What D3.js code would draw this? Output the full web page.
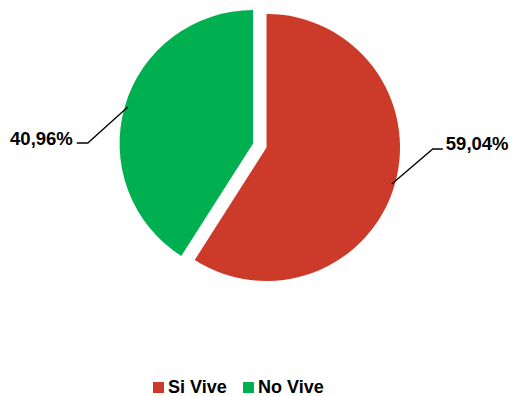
<!DOCTYPE html>
<html>
<head>
<meta charset="utf-8">
<script src="https://cdn.jsdelivr.net/npm/d3@7"></script>
<style>
  body { margin: 0; background: #fff; }
  svg text { font-family: "Liberation Sans", Arial, sans-serif; font-weight: bold; fill: #000; }
</style>
</head>
<body>
<svg id="chart" width="510" height="396"></svg>
<script>
// data
const categories = ["Si Vive", "No Vive"];
const values = [59.04, 40.96];
const colors = ["#cc3a2a", "#00b050"];

const svg = d3.select("#chart");
const cx = 259.8, cy = 145.5, r = 133.5, explode = 7;

const pie = d3.pie().sort(null).value(d => d.v);
const arcs = pie(categories.map((c, i) => ({ c: c, v: values[i], col: colors[i] })));
const arc = d3.arc().innerRadius(0).outerRadius(r);

const g = svg.append("g").attr("transform", `translate(${cx},${cy})`);

// offset of a slice along its mid angle
function mid(d) { return (d.startAngle + d.endAngle) / 2; }
function off(d, k) { const a = mid(d); return [Math.sin(a) * k, -Math.cos(a) * k]; }

g.selectAll("path").data(arcs).enter().append("path")
  .attr("d", arc)
  .attr("transform", d => { const o = off(d, explode); return `translate(${o[0]},${o[1]})`; })
  .style("fill", d => d.data.col);

// leader lines and labels
const fmt = v => v.toFixed(2).replace(".", ",") + "%";
arcs.forEach(d => {
  const a = mid(d);
  const right = Math.sin(a) > 0;
  const p0 = off(d, explode + r - 3);
  const elbow = [right ? 173 : -172, right ? 3.5 : -2.5];
  const p2 = [elbow[0] + (right ? 10 : -11), elbow[1]];
  g.append("polyline")
    .attr("points", [p0, elbow, p2].map(p => p.join(",")).join(" "))
    .style("fill", "none").style("stroke", "#000").style("stroke-width", 1.3);
  g.append("text")
    .attr("x", p2[0] + (right ? 3 : -4))
    .attr("y", elbow[1] + (right ? 0.5 : 2))
    .attr("text-anchor", right ? "start" : "end")
    .style("font-size", "18.5px")
    .text(fmt(d.data.v));
});

// legend
const legend = svg.append("g").attr("transform", "translate(153,382)");
const lx = [0, 90];
categories.forEach((c, i) => {
  const it = legend.append("g").attr("transform", `translate(${lx[i]},0)`);
  it.append("rect").attr("width", 11).attr("height", 11).style("fill", colors[i]);
  it.append("text").attr("x", 15).attr("y", 11).style("font-size", "18px").text(c);
});
</script>
</body>
</html>
